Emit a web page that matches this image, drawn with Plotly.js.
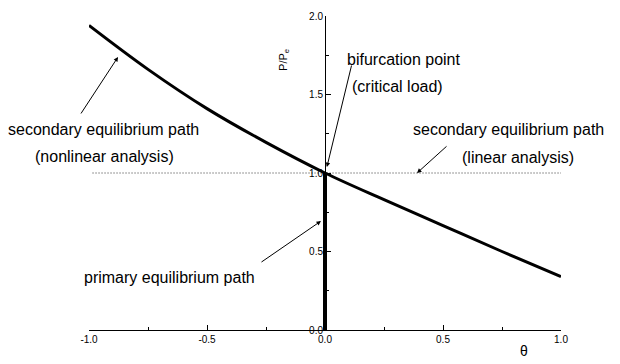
<!DOCTYPE html>
<html>
<head>
<meta charset="utf-8">
<script src="https://cdn.plot.ly/plotly-3.0.1.min.js"></script>
<style>
  html, body { margin: 0; padding: 0; background: #fff; }
  #chart { width: 620px; height: 364px; }
</style>
</head>
<body>
<div id="chart"></div>
<script>
// Rotation angle theta and normalised load P/Pe along each equilibrium path
const nonlinearTheta = [-1, -0.75, -0.5, -0.25, 0, 0.25, 0.5, 0.75, 1];
const nonlinearLoad  = [1.94, 1.66, 1.41, 1.195, 1.0, 0.83, 0.665, 0.50, 0.34];

const primaryTheta = [0, 0];
const primaryLoad  = [0, 1];

const linearTheta = [-0.985, 1.0];
const linearLoad  = [1, 1];

const tickValues = [-1, -0.5, 0, 0.5, 1];
const tickLabels = ['-1.0', '-0.5', '0.0', '0.5', '1.0'];
const yTickValues = [0, 0.5, 1, 1.5, 2];
const yTickLabels = ['0.0', '0.5', '1.0', '1.5', '2.0'];

const textFont = { family: 'Liberation Sans, Arial, sans-serif', size: 16, color: '#000' };
const tickFont = { family: 'Liberation Sans Narrow, Liberation Sans, sans-serif', size: 10, color: '#000' };

const traces = [
  {
    x: linearTheta, y: linearLoad, mode: 'lines',
    line: { color: '#333', width: 1, dash: '1px,2px' },
    hoverinfo: 'skip', showlegend: false
  },
  {
    x: nonlinearTheta, y: nonlinearLoad, mode: 'lines',
    line: { color: '#000', width: 3, shape: 'spline', smoothing: 1 },
    showlegend: false
  },
  {
    x: primaryTheta, y: primaryLoad, mode: 'lines',
    line: { color: '#000', width: 4 },
    showlegend: false
  }
];

function label(text, x, y, anchor) {
  return { text: text, xref: 'paper', yref: 'paper', x: x, y: y,
           xanchor: anchor || 'left', yanchor: 'middle', showarrow: false, font: textFont };
}
function pointer(x, y, ax, ay) {
  return { text: '', xref: 'x', yref: 'y', x: x, y: y, ax: ax, ay: ay,
           showarrow: true, arrowhead: 2, arrowsize: 0.9, arrowwidth: 1, arrowcolor: '#000' };
}

const layout = {
  width: 620, height: 364,
  margin: { l: 89, r: 59, t: 16, b: 34 },
  paper_bgcolor: '#fff', plot_bgcolor: '#fff',
  showlegend: false,
  xaxis: {
    range: [-1, 1], showgrid: false, zeroline: false,
    showline: true, linecolor: '#000', linewidth: 1,
    ticks: 'inside', ticklen: 5, tickcolor: '#000',
    tickvals: tickValues, ticktext: tickLabels, tickfont: tickFont,
    minor: { dtick: 0.25, tick0: 0, ticks: 'inside', ticklen: 3, tickcolor: '#000' }
  },
  yaxis: {
    range: [0, 2], showgrid: false, zeroline: false,
    anchor: 'free', position: 0.5, side: 'left',
    showline: true, linecolor: '#000', linewidth: 1,
    ticks: 'inside', ticklen: 5, tickcolor: '#000',
    tickvals: yTickValues, ticktext: yTickLabels, tickfont: tickFont,
    minor: { dtick: 0.25, tick0: 0, ticks: 'inside', ticklen: 3, tickcolor: '#000' }
  },
  annotations: [
    label('bifurcation point', 0.542, 0.860),
    label('(critical load)', 0.553, 0.777),
    label('secondary equilibrium path', -0.176, 0.637),
    label('(nonlinear analysis)', -0.118, 0.551),
    label('secondary equilibrium path', 0.683, 0.637),
    label('(linear analysis)', 0.786, 0.548),
    label('primary equilibrium path', -0.015, 0.166),
    { text: 'P/P<sub>e</sub>', xref: 'paper', yref: 'paper', x: 0.413, y: 0.86,
      textangle: -90, showarrow: false, xanchor: 'center', yanchor: 'middle',
      font: { family: 'Liberation Sans, Arial, sans-serif', size: 11, color: '#000' } },
    { text: 'θ', xref: 'paper', yref: 'paper', x: 0.922, y: -0.0985,
      showarrow: false, xanchor: 'center', yanchor: 'bottom',
      font: { family: 'Liberation Sans, Arial, sans-serif', size: 14, color: '#000' } }
  ].concat([
    pointer(0.008, 1.038, 25, -103),
    pointer(-0.877, 1.739, -38, 58),
    pointer(0.39, 1.0, 31, -28),
    pointer(-0.017, 0.694, -61, 42)
  ])
};

Plotly.newPlot('chart', traces, layout, { displayModeBar: false, staticPlot: true });
</script>
</body>
</html>
